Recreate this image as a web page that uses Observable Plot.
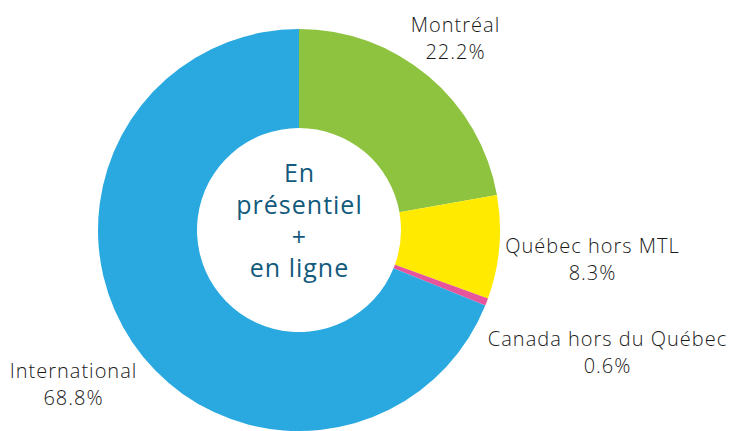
<!DOCTYPE html>
<html><head><meta charset="utf-8">
<script src="https://cdn.jsdelivr.net/npm/d3@7"></script>
<script src="https://cdn.jsdelivr.net/npm/@observablehq/plot@0.6"></script>
<style>body{margin:0;background:#fff;} svg{display:block;} svg text{letter-spacing:1px;}</style>
</head><body><div id="chart"></div>
<script>
const categories = ["Montréal", "Québec hors MTL", "Canada hors du Québec", "International"];
const values = [22.2, 8.3, 0.6, 68.8];
const colors = ["#8DC33F", "#FFEA00", "#E6559B", "#29A9E0"];
const labelX = [455, 592, 607, 73];
const labelY = [36, 257, 350, 382];
const centerLines = ["En", "présentiel", "+", "en ligne"];

const data = categories.map((c, i) => ({category: c, value: values[i], color: colors[i], lx: labelX[i], ly: labelY[i]}));
const cx = 299, cy = 230, rOuter = 201, rInner = 102;

function donut(index, scales, vals, dims) {
  const g = d3.create("svg:g");
  const pie = d3.pie().sort(null).value(d => d.value)(data);
  const X = scales.x(cx), Y = scales.y(cy);
  const ro = scales.x(cx + rOuter) - X, ri = scales.x(cx + rInner) - X;
  const arc = d3.arc().innerRadius(ri).outerRadius(ro);
  g.attr("transform", `translate(${X},${Y})`)
    .selectAll("path").data(pie).join("path")
    .attr("d", arc).attr("fill", d => d.data.color);
  return g.node();
}

const chart = Plot.plot({
  width: 746, height: 431, margin: 0,
  x: {domain: [0, 746], range: [0, 746], axis: null},
  y: {domain: [0, 431], range: [0, 431], axis: null},
  style: {fontFamily: "'Open Sans', Lato, sans-serif", background: "#fff"},
  marks: [
    donut,
    Plot.text(data, {x: "lx", y: "ly", text: d => `${d.category}\n${d.value.toFixed(1)}%`,
      fontSize: 20, fontWeight: 300, fill: "#1a1a1a", lineHeight: 1.38}),
    Plot.text([centerLines.join("\n")], {x: [cx], y: [219], text: d => d,
      fontSize: 25, fill: "#125A7C", lineHeight: 1.27})
  ]
});
document.getElementById("chart").append(chart);
</script></body></html>
